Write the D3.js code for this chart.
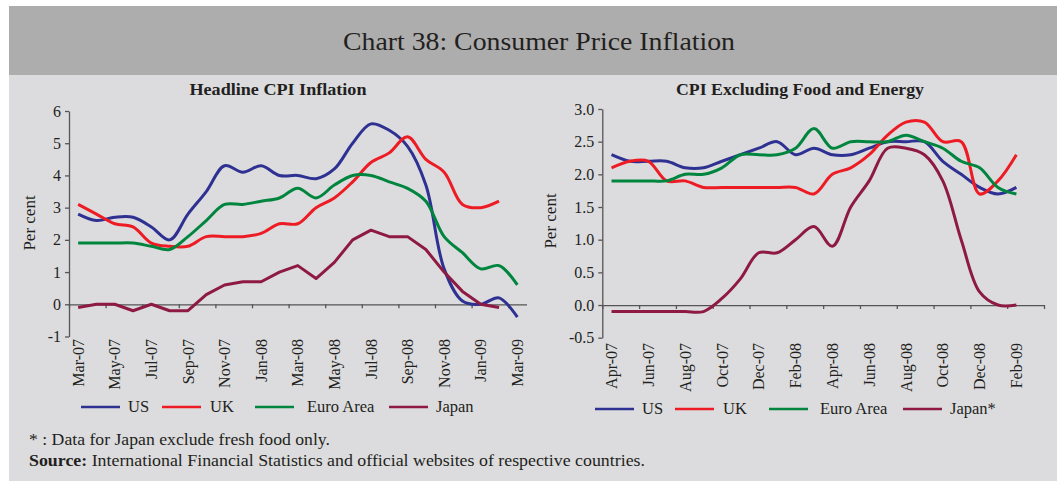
<!DOCTYPE html>
<html>
<head>
<meta charset="utf-8">
<script src="https://cdn.jsdelivr.net/npm/d3@7"></script>
<style>
  body { margin: 0; background: #fff; }
  text { font-family: "Liberation Serif", serif; fill: #231f20; }
</style>
</head>
<body>
<svg id="chart" width="1057" height="481"></svg>
<script>
// months on each panel (category axes)
var leftMonths = ["Mar-07","Apr-07","May-07","Jun-07","Jul-07","Aug-07","Sep-07","Oct-07","Nov-07","Dec-07",
  "Jan-08","Feb-08","Mar-08","Apr-08","May-08","Jun-08","Jul-08","Aug-08","Sep-08","Oct-08","Nov-08","Dec-08",
  "Jan-09","Feb-09","Mar-09"];
var rightMonths = ["Apr-07","May-07","Jun-07","Jul-07","Aug-07","Sep-07","Oct-07","Nov-07","Dec-07",
  "Jan-08","Feb-08","Mar-08","Apr-08","May-08","Jun-08","Jul-08","Aug-08","Sep-08","Oct-08","Nov-08","Dec-08",
  "Jan-09","Feb-09","Mar-09"];

// headline CPI inflation (per cent)
var headlineUS    = [2.8,2.6,2.7,2.7,2.4,2.0,2.8,3.5,4.3,4.1,4.3,4.0,4.0,3.9,4.2,5.0,5.6,5.4,4.9,3.7,1.1,0.1,0.0,0.2,-0.4];
var headlineUK    = [3.1,2.8,2.5,2.4,1.9,1.8,1.8,2.1,2.1,2.1,2.2,2.5,2.5,3.0,3.3,3.8,4.4,4.7,5.2,4.5,4.1,3.1,3.0,3.2];
var headlineEuro  = [1.9,1.9,1.9,1.9,1.8,1.7,2.1,2.6,3.1,3.1,3.2,3.3,3.6,3.3,3.7,4.0,4.0,3.8,3.6,3.2,2.1,1.6,1.1,1.2,0.6];
var headlineJapan = [-0.1,0.0,0.0,-0.2,0.0,-0.2,-0.2,0.3,0.6,0.7,0.7,1.0,1.2,0.8,1.3,2.0,2.3,2.1,2.1,1.7,1.0,0.4,0.0,-0.1];

// CPI excluding food and energy (per cent)
var coreUS    = [2.3,2.2,2.2,2.2,2.1,2.1,2.2,2.3,2.4,2.5,2.3,2.4,2.3,2.3,2.4,2.5,2.5,2.5,2.2,2.0,1.8,1.7,1.8];
var coreUK    = [2.1,2.2,2.2,1.9,1.9,1.8,1.8,1.8,1.8,1.8,1.8,1.7,2.0,2.1,2.3,2.6,2.8,2.8,2.5,2.5,1.7,1.9,2.3];
var coreEuro  = [1.9,1.9,1.9,1.9,2.0,2.0,2.1,2.3,2.3,2.3,2.4,2.7,2.4,2.5,2.5,2.5,2.6,2.5,2.4,2.2,2.1,1.8,1.7];
var coreJapan = [-0.1,-0.1,-0.1,-0.1,-0.1,-0.1,0.1,0.4,0.8,0.8,1.0,1.2,0.9,1.5,1.9,2.4,2.4,2.3,1.9,1.0,0.2,0.0,0.0];

var leftTicks = [-1,0,1,2,3,4,5,6];
var rightTicks = [-0.5,0,0.5,1,1.5,2,2.5,3];

var seriesNames = ["US","UK","Euro Area","Japan"];
var colors = ["#2e3192","#ed1c24","#00853f","#8e1a43"];

var svg = d3.select("#chart");

// backgrounds
svg.append("rect").attr("x",9).attr("y",6).attr("width",1048).attr("height",69).attr("fill","#adadad");
svg.append("rect").attr("x",9).attr("y",75).attr("width",1048).attr("height",406).attr("fill","#dcdcde");

svg.append("text").attr("x",539).attr("y",50).attr("text-anchor","middle")
  .attr("textLength",392).attr("lengthAdjust","spacingAndGlyphs")
  .style("font-size","26px").text("Chart 38: Consumer Price Inflation");

function panel(opts) {
  var g = svg.append("g");
  var x = d3.scaleBand().domain(opts.months).range(opts.xRange).paddingInner(0).paddingOuter(0);
  var y = d3.scaleLinear().domain(opts.yDomain).range(opts.yRange);
  var cx = function(i) { return x(opts.months[i]) + x.bandwidth() / 2; };

  g.append("text").attr("x",opts.titleX).attr("y",95).attr("text-anchor","middle")
    .attr("textLength",opts.titleW).attr("lengthAdjust","spacingAndGlyphs")
    .style("font-size","16.5px").style("font-weight","bold").text(opts.title);

  // y axis
  var yAxis = d3.axisLeft(y).tickValues(opts.yTicks).tickSize(4).tickSizeOuter(0).tickPadding(4)
    .tickFormat(opts.fmt);
  var ya = g.append("g").attr("transform","translate(" + opts.xRange[0] + ",0)").call(yAxis);
  ya.selectAll("text").style("font-size","16px").style("font-family","'Liberation Serif', serif").attr("fill","#231f20");
  ya.selectAll("line,path").attr("stroke","#555").attr("stroke-width",1.3);

  // zero line with ticks every two months (between categories)
  var bounds = [];
  for (var k = 0; k <= opts.months.length; k += 2) {
    bounds.push(k < opts.months.length ? x(opts.months[k]) : opts.xRange[1]);
  }
  var xLin = d3.scaleLinear().domain(opts.xRange).range(opts.xRange);
  var xa = g.append("g").attr("transform","translate(0," + y(0) + ")")
    .call(d3.axisBottom(xLin).tickValues(bounds).tickSize(4).tickSizeOuter(0).tickFormat(""));
  xa.selectAll("line,path").attr("stroke","#555").attr("stroke-width",1.3);

  // month labels at the bottom, rotated
  var labelIdx = [];
  opts.labels.forEach(function(m) { labelIdx.push(opts.months.indexOf(m)); });
  g.selectAll(".mlab").data(labelIdx).enter().append("text")
    .attr("transform", function(i) { return "translate(" + cx(i) + "," + opts.labelY + ") rotate(-90)"; })
    .attr("text-anchor","end").attr("dy","0.35em").style("font-size","16px")
    .text(function(i) { return opts.months[i]; });

  g.append("text")
    .attr("transform","translate(" + opts.yLabelX + "," + opts.yLabelY + ") rotate(-90)")
    .attr("text-anchor","middle").style("font-size","17px").text("Per cent");

  // lines
  opts.series.forEach(function(vals, s) {
    var curve = (opts.linear && opts.linear[s]) ? d3.curveLinear : d3.curveCatmullRom.alpha(0.5);
    var line = d3.line().x(function(d, i) { return cx(i); }).y(function(d) { return y(d); }).curve(curve);
    g.append("path").datum(vals).attr("d", line).attr("fill","none")
      .attr("stroke", colors[s]).attr("stroke-width", 3).attr("stroke-linejoin","round");
  });

  // legend
  opts.legend.forEach(function(lx, s) {
    g.append("line").attr("x1",lx).attr("x2",lx + 39).attr("y1",opts.legendY).attr("y2",opts.legendY)
      .attr("stroke",colors[s]).attr("stroke-width",2.5);
    g.append("text").attr("x",lx + opts.legendGap[s]).attr("y",opts.legendY + 5)
      .style("font-size","16.5px").text(opts.names[s]);
  });
}

panel({
  title: "Headline CPI Inflation", titleX: 278, titleW: 177,
  months: leftMonths, xRange: [69, 526.5],
  yDomain: [-1, 6], yRange: [336.5, 111], yTicks: leftTicks,
  fmt: function(d) { return String(d); },
  labels: ["Mar-07","May-07","Jul-07","Sep-07","Nov-07","Jan-08","Mar-08","May-08","Jul-08","Sep-08","Nov-08","Jan-09","Mar-09"],
  labelY: 339, yLabelX: 35, yLabelY: 223,
  series: [headlineUS, headlineUK, headlineEuro, headlineJapan],
  linear: [false, false, false, true],
  legend: [81, 162, 255, 389], legendGap: [47, 48, 52, 47], legendY: 407,
  names: seriesNames
});

panel({
  title: "CPI Excluding Food and Energy", titleX: 800, titleW: 248,
  months: rightMonths, xRange: [602.3, 1044],
  yDomain: [-0.5, 3], yRange: [337.7, 109], yTicks: rightTicks,
  fmt: function(d) { return d.toFixed(1); },
  labels: ["Apr-07","Jun-07","Aug-07","Oct-07","Dec-07","Feb-08","Apr-08","Jun-08","Aug-08","Oct-08","Dec-08","Feb-09"],
  labelY: 343, yLabelX: 556, yLabelY: 221,
  series: [coreUS, coreUK, coreEuro, coreJapan],
  legend: [595, 675, 769, 903], legendGap: [47, 48, 51, 47], legendY: 409,
  names: ["US","UK","Euro Area","Japan*"]
});

svg.append("text").attr("x",29).attr("y",445).style("font-size","16.5px")
  .attr("textLength",301).attr("lengthAdjust","spacingAndGlyphs")
  .text("* : Data for Japan exclude fresh food only.");
var src = svg.append("text").attr("x",29).attr("y",466).style("font-size","16.5px")
  .attr("textLength",616).attr("lengthAdjust","spacingAndGlyphs");
src.append("tspan").style("font-weight","bold").text("Source:");
src.append("tspan").text(" International Financial Statistics and official websites of respective countries.");
</script>
</body>
</html>
